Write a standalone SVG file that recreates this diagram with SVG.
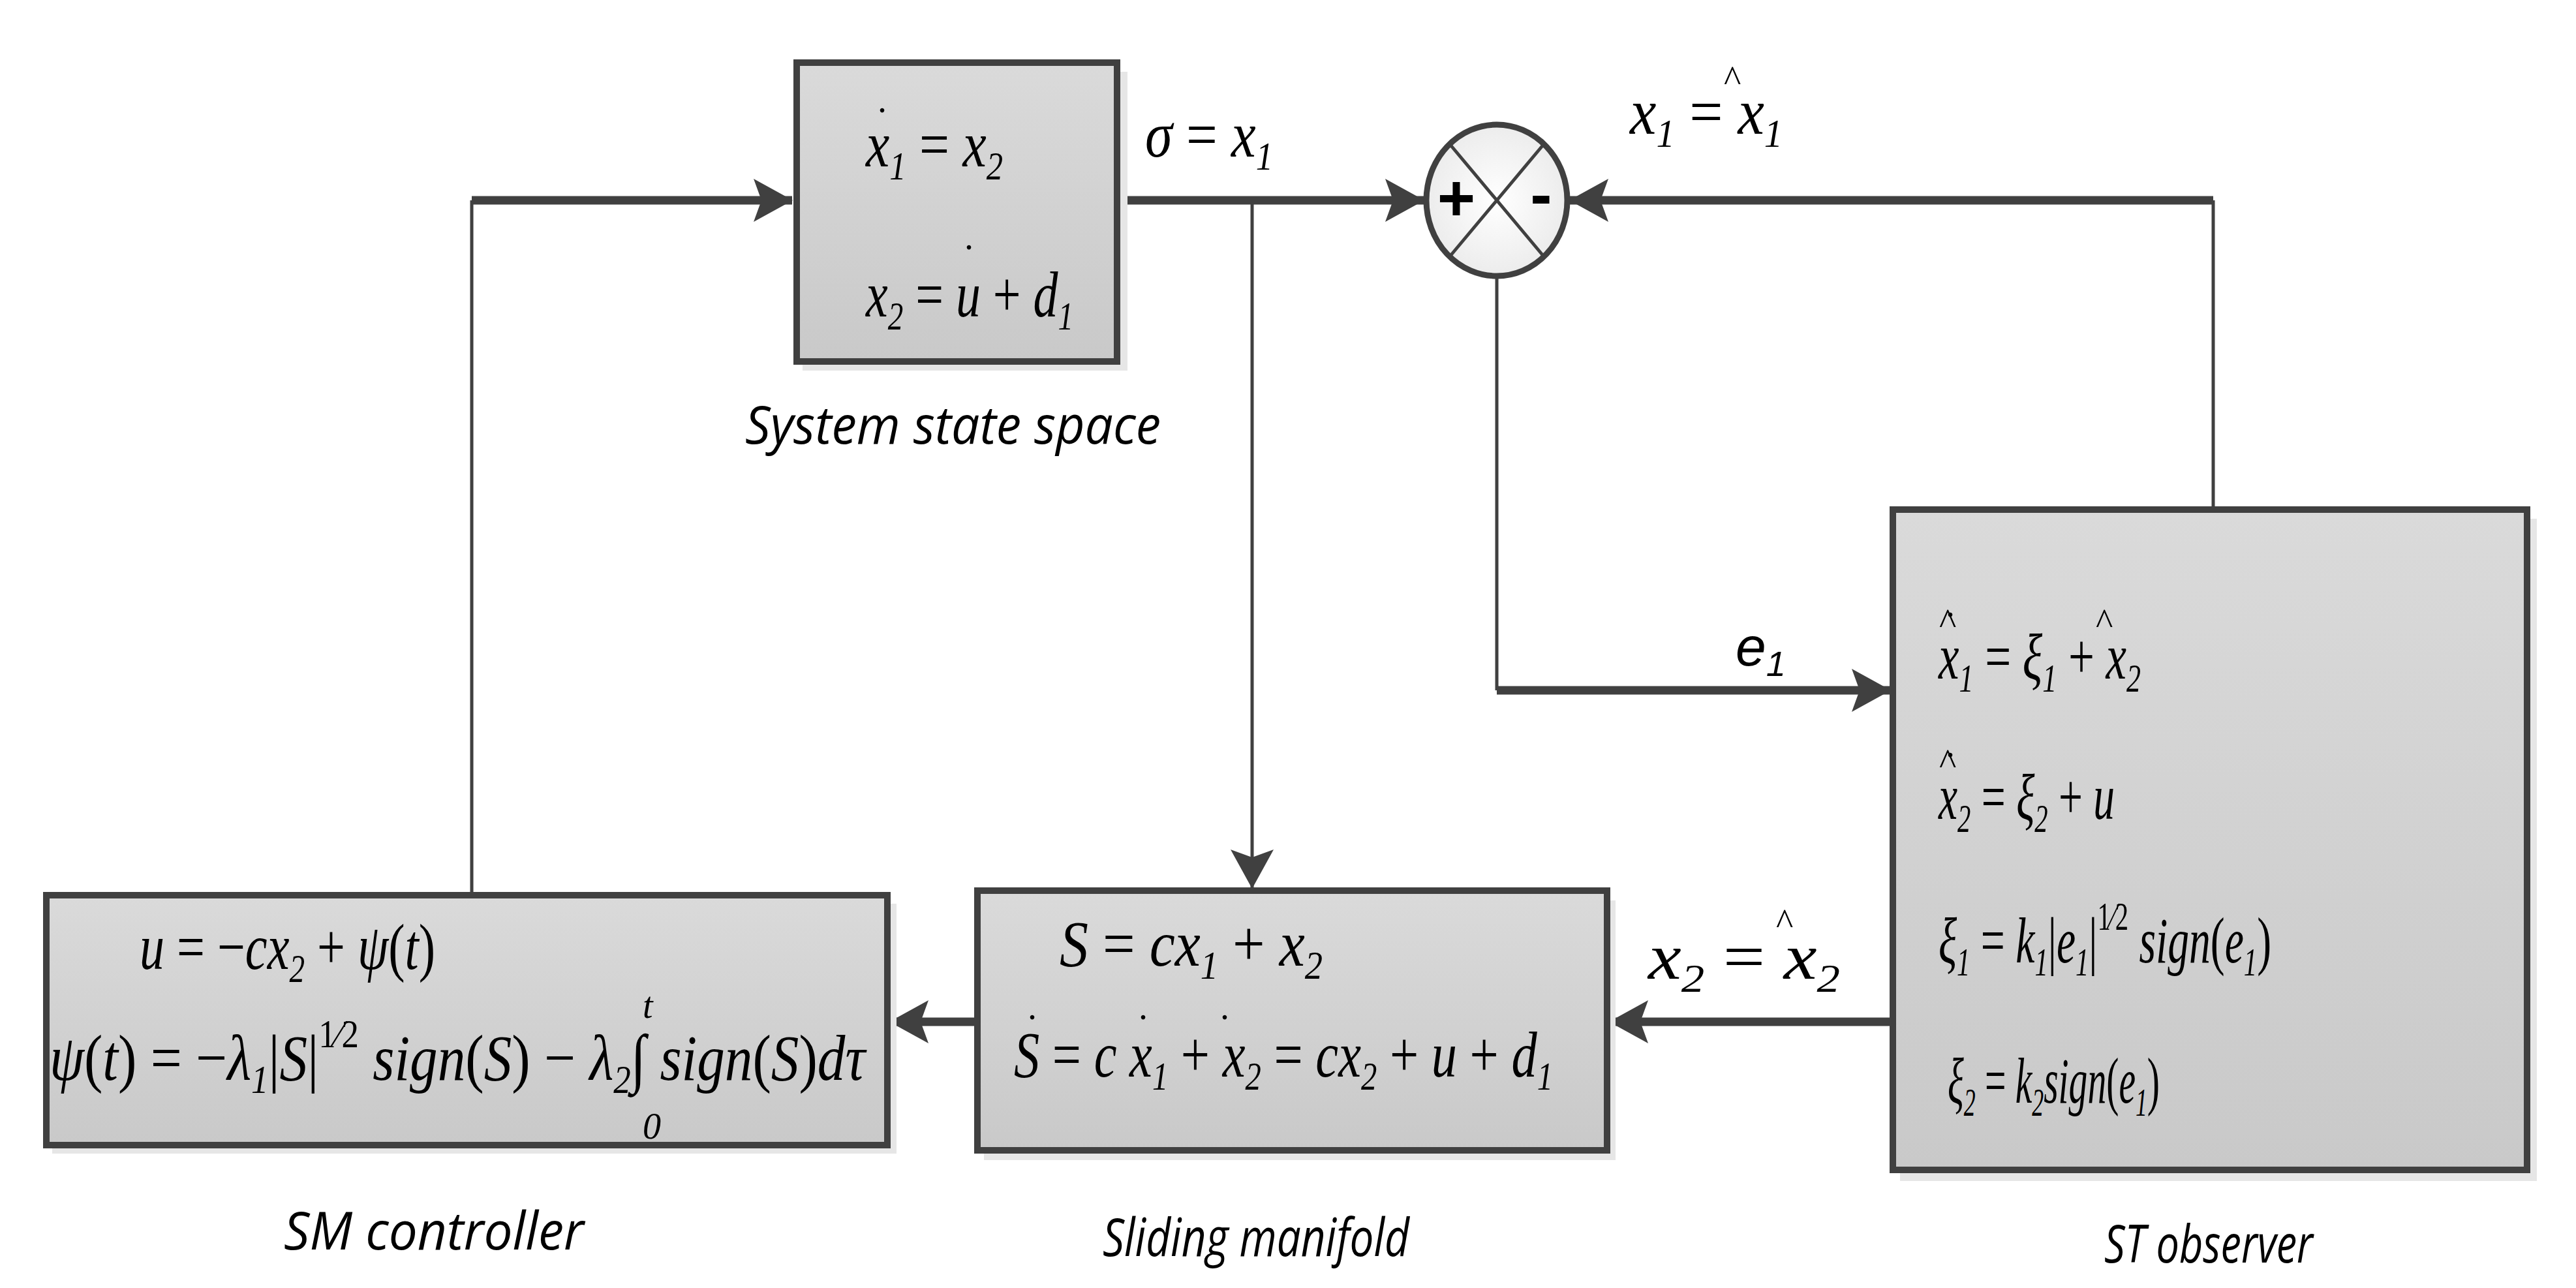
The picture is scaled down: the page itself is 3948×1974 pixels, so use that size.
<svg xmlns="http://www.w3.org/2000/svg" width="3948" height="1974" viewBox="0 0 3948 1974">
<style>
.box{fill:url(#g);stroke:#404040;stroke-width:10}
.sh{fill:#e6e6e6}
.thin{stroke:#404040;stroke-width:5;fill:none}
.thick{stroke:#404040;stroke-width:13;fill:none}
.eq{font-family:"Liberation Serif",serif;font-style:italic;font-size:100px;fill:#000}
.cap{font-family:"Open Sans","Liberation Sans",sans-serif;font-style:italic;font-size:80px;fill:#000}
.acc{font-family:"Liberation Serif",serif;font-size:56px;fill:#000}
</style>
<defs>
<linearGradient id="g" x1="0" y1="0" x2="0" y2="1"><stop offset="0" stop-color="#dadada"/><stop offset="1" stop-color="#c9c9c9"/></linearGradient>
<radialGradient id="cg"><stop offset="0" stop-color="#ffffff"/><stop offset="1" stop-color="#ececec"/></radialGradient>
<marker id="ah" viewBox="0 0 12 10" refX="11" refY="5" markerWidth="12" markerHeight="10" markerUnits="userSpaceOnUse" orient="auto" overflow="visible">
<path d="M-48,-28 L12,5 L-48,38 L-36,5 Z" fill="#404040"/>
</marker>
</defs>
<rect width="3948" height="1974" fill="#fff"/>

<g id="connectors">
<polyline class="thin" points="723,1372 723,307"/>
<line class="thick" x1="723" y1="307" x2="1214" y2="307" marker-end="url(#ah)"/>
<line class="thick" x1="1716" y1="307" x2="2182" y2="307" marker-end="url(#ah)"/>
<line class="thin" x1="1919" y1="307" x2="1919" y2="1361" marker-end="url(#ah)"/>
<polyline class="thin" points="3392,781 3392,307"/>
<line class="thick" x1="3392" y1="307" x2="2406" y2="307" marker-end="url(#ah)"/>
<polyline class="thin" points="2294,425 2294,1058"/>
<line class="thick" x1="2294" y1="1058" x2="2897" y2="1058" marker-end="url(#ah)"/>
<line class="thick" x1="2901" y1="1566" x2="2467" y2="1566" marker-end="url(#ah)"/>
<line class="thick" x1="1498" y1="1566" x2="1364" y2="1566" marker-end="url(#ah)"/>
</g>

<g id="system">
<rect class="sh" x="1230" y="110" width="498" height="458"/>
<rect class="box" x="1221" y="96" width="491" height="458"/>
<text class="eq" x="1327" y="255" textLength="210" lengthAdjust="spacingAndGlyphs">x<tspan font-size="62" dy="20">1</tspan><tspan dy="-20" font-style="normal"> = </tspan>x<tspan font-size="62" dy="20">2</tspan></text>
<text class="acc" x="1345" y="172">.</text>
<text class="eq" x="1327" y="485" textLength="318" lengthAdjust="spacingAndGlyphs">x<tspan font-size="62" dy="20">2</tspan><tspan dy="-20" font-style="normal"> = </tspan>u<tspan font-style="normal"> + </tspan>d<tspan font-size="62" dy="20">1</tspan></text>
<text class="acc" x="1478" y="382">.</text>
<text class="cap" x="1142" y="680" textLength="637" lengthAdjust="spacingAndGlyphs">System state space</text>
</g>

<g id="sum">
<ellipse cx="2294" cy="307" rx="108" ry="116" fill="url(#cg)" stroke="#404040" stroke-width="9"/>
<line class="thin" x1="2222" y1="221" x2="2366" y2="393"/>
<line class="thin" x1="2366" y1="221" x2="2222" y2="393"/>
<text x="2232" y="338" font-family="Liberation Sans,sans-serif" font-size="100" font-weight="bold" text-anchor="middle">+</text>
<text x="2362" y="332" font-family="Liberation Sans,sans-serif" font-size="100" font-weight="bold" text-anchor="middle">-</text>
</g>

<g id="labels">
<text class="eq" x="1755" y="240" textLength="196" lengthAdjust="spacingAndGlyphs">σ<tspan font-style="normal"> = </tspan>x<tspan font-size="62" dy="20">1</tspan></text>
<text class="eq" x="2498" y="205" textLength="234" lengthAdjust="spacingAndGlyphs">x<tspan font-size="62" dy="20">1</tspan><tspan dy="-20" font-style="normal"> = </tspan>x<tspan font-size="62" dy="20">1</tspan></text>
<text class="acc" x="2642" y="140">^</text>
<text x="2660" y="1020" font-family="Liberation Sans,sans-serif" font-style="italic" font-size="84">e<tspan font-size="54" dy="16">1</tspan></text>
<text class="eq" x="2526" y="1500" textLength="294" lengthAdjust="spacingAndGlyphs">x<tspan font-size="62" dy="20">2</tspan><tspan dy="-20" font-style="normal"> = </tspan>x<tspan font-size="62" dy="20">2</tspan></text>
<text class="acc" x="2722" y="1432">^</text>
</g>

<g id="observer">
<rect class="sh" x="2912" y="795" width="976" height="1015"/>
<rect class="box" x="2901" y="781" width="972" height="1012"/>
<text class="eq" x="2971" y="1040" textLength="310" lengthAdjust="spacingAndGlyphs">x<tspan font-size="62" dy="20">1</tspan><tspan dy="-20" font-style="normal">  = </tspan>ξ<tspan font-size="62" dy="20">1</tspan><tspan dy="-20" font-style="normal"> + </tspan>x<tspan font-size="62" dy="20">2</tspan></text>
<text class="acc" x="2972" y="972">^</text><text class="acc" x="2982" y="945">.</text>
<text class="acc" x="3212" y="972">^</text>
<text class="eq" x="2971" y="1255" textLength="270" lengthAdjust="spacingAndGlyphs">x<tspan font-size="62" dy="20">2</tspan><tspan dy="-20" font-style="normal">  = </tspan>ξ<tspan font-size="62" dy="20">2</tspan><tspan dy="-20" font-style="normal"> + </tspan>u</text>
<text class="acc" x="2972" y="1187">^</text><text class="acc" x="2982" y="1160">.</text>
<text class="eq" x="2971" y="1475" textLength="510" lengthAdjust="spacingAndGlyphs">ξ<tspan font-size="62" dy="20">1</tspan><tspan dy="-20" font-style="normal"> = </tspan>k<tspan font-size="62" dy="20">1</tspan><tspan dy="-20" font-style="normal">|</tspan>e<tspan font-size="62" dy="20">1</tspan><tspan dy="-20" font-style="normal">|</tspan><tspan font-style="normal" font-size="62" dy="-50">1⁄2</tspan><tspan dy="50"> sign</tspan><tspan font-style="normal">(</tspan>e<tspan font-size="62" dy="20">1</tspan><tspan dy="-20" font-style="normal">)</tspan></text>
<text class="eq" x="2985" y="1690" textLength="325" lengthAdjust="spacingAndGlyphs">ξ<tspan font-size="62" dy="20">2</tspan><tspan dy="-20" font-style="normal"> = </tspan>k<tspan font-size="62" dy="20">2</tspan><tspan dy="-20">sign</tspan><tspan font-style="normal">(</tspan>e<tspan font-size="62" dy="20">1</tspan><tspan dy="-20" font-style="normal">)</tspan></text>
<text class="cap" x="3225" y="1935" textLength="320" lengthAdjust="spacingAndGlyphs">ST observer</text>
</g>

<g id="sliding">
<rect class="sh" x="1508" y="1380" width="968" height="398"/>
<rect class="box" x="1498" y="1365" width="965" height="398"/>
<text class="eq" x="1624" y="1480" textLength="403" lengthAdjust="spacingAndGlyphs">S<tspan font-style="normal"> = </tspan>cx<tspan font-size="62" dy="20">1</tspan><tspan dy="-20" font-style="normal"> + </tspan>x<tspan font-size="62" dy="20">2</tspan></text>
<text class="eq" x="1554" y="1650" textLength="826" lengthAdjust="spacingAndGlyphs">S<tspan font-style="normal"> = </tspan>c x<tspan font-size="62" dy="20">1</tspan><tspan dy="-20" font-style="normal"> + </tspan>x<tspan font-size="62" dy="20">2</tspan><tspan dy="-20" font-style="normal"> = </tspan>cx<tspan font-size="62" dy="20">2</tspan><tspan dy="-20" font-style="normal"> + </tspan>u<tspan font-style="normal"> + </tspan>d<tspan font-size="62" dy="20">1</tspan></text>
<text class="acc" x="1575" y="1562">.</text><text class="acc" x="1745" y="1562">.</text><text class="acc" x="1870" y="1562">.</text>
<text class="cap" x="1690" y="1925" textLength="470" lengthAdjust="spacingAndGlyphs">Sliding manifold</text>
</g>

<g id="smc">
<rect class="sh" x="80" y="1385" width="1294" height="383"/>
<rect class="box" x="71" y="1372" width="1289" height="383"/>
<text class="eq" x="214" y="1485" textLength="453" lengthAdjust="spacingAndGlyphs">u<tspan font-style="normal"> = −</tspan>cx<tspan font-size="62" dy="20">2</tspan><tspan dy="-20" font-style="normal"> + </tspan>ψ<tspan font-style="normal">(</tspan>t<tspan font-style="normal">)</tspan></text>
<text class="eq" x="76" y="1655" textLength="1250" lengthAdjust="spacingAndGlyphs">ψ<tspan font-style="normal">(</tspan>t<tspan font-style="normal">) = −</tspan>λ<tspan font-size="62" dy="20">1</tspan><tspan dy="-20" font-style="normal">|</tspan>S<tspan font-style="normal">|</tspan><tspan font-style="normal" font-size="62" dy="-50">1⁄2</tspan><tspan dy="50"> sign</tspan><tspan font-style="normal">(</tspan>S<tspan font-style="normal">) − </tspan>λ<tspan font-size="62" dy="20">2</tspan><tspan dy="-20" font-style="normal">∫ </tspan>sign<tspan font-style="normal">(</tspan>S<tspan font-style="normal">)</tspan>dτ</text>
<text class="acc" x="985" y="1560" font-style="italic">t</text>
<text class="acc" x="985" y="1745" font-style="italic">0</text>
<text class="cap" x="435" y="1915" textLength="460" lengthAdjust="spacingAndGlyphs">SM controller</text>
</g>
</svg>
